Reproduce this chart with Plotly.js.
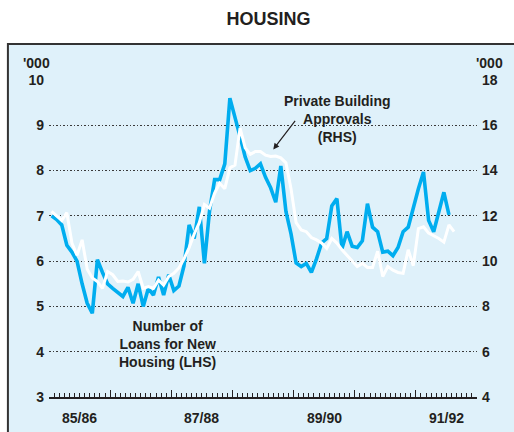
<!DOCTYPE html>
<html>
<head>
<meta charset="utf-8">
<script src="https://cdn.plot.ly/plotly-3.0.1.min.js"></script>
<style>html,body{margin:0;padding:0;background:#fff;}#chart{width:514px;height:432px;}</style>
</head>
<body>
<div id="chart"></div>
<script>
// Monthly data from July 1985 (month index 0), financial years 85/86 .. 91/92
const loansLHS = [7.0,6.92,6.8,6.35,6.2,6.0,5.5,5.07,4.85,6.03,5.75,5.5,5.4,5.32,5.22,5.42,5.07,5.5,5.0,5.4,
  5.25,5.65,5.25,5.7,5.35,5.45,5.9,6.8,6.5,7.2,5.95,7.1,7.8,7.8,8.15,9.6,9.2,8.75,8.3,8.0,
  8.05,8.15,7.85,7.62,7.3,8.1,7.1,6.6,5.96,5.88,5.95,5.75,6.05,6.4,6.5,7.22,7.38,6.28,6.65,6.33,
  6.3,6.45,7.27,6.75,6.65,6.2,6.22,6.12,6.3,6.65,6.75,7.2,7.6,7.97,6.9,6.65,7.1,7.52,7.02];
const approvalsRHS = [12.2,12.0,11.8,12.14,10.8,10.26,10.94,9.64,9.26,9.1,8.8,9.54,9.4,9.1,9.12,9.08,9.2,9.54,8.8,8.88,
  8.8,9.16,8.94,9.32,9.46,9.7,10.1,10.6,11.2,11.7,12.5,12.34,13.0,13.44,13.2,14.12,14.24,15.88,15.0,14.72,
  14.84,14.84,14.68,14.62,14.64,14.56,14.34,13.2,11.7,11.38,11.3,11.04,10.94,10.8,10.56,11.0,10.8,10.5,10.24,10.0,
  9.76,9.9,9.72,9.72,10.44,9.32,9.76,9.6,9.5,9.46,10.5,9.8,11.44,11.52,11.24,11.12,11.0,10.84,11.6,11.3];
const yearLabels = ['85/86','86/87','87/88','88/89','89/90','90/91','91/92'];
const shownYears = ['85/86','87/88','89/90','91/92'];
const leftTicks = [3,4,5,6,7,8,9,10];
const rightTicks = [4,6,8,10,12,14,16,18];

const monthPos = arr => arr.map((_, i) => i + 0.5);
const ink = '#231f20';
const blue = '#00adef';
const bold = {family: 'Liberation Sans, Arial, sans-serif', size: 14, color: ink, weight: 'bold'};

const traces = [
  {x: monthPos(loansLHS), y: loansLHS, type: 'scatter', mode: 'lines', yaxis: 'y',
   line: {color: blue, width: 3.6}, hoverinfo: 'skip'},
  {x: monthPos(approvalsRHS), y: approvalsRHS, type: 'scatter', mode: 'lines', yaxis: 'y2',
   line: {color: '#ffffff', width: 3}, hoverinfo: 'skip'}
];

const annotations = [];
yearLabels.forEach((lab, k) => {
  if (shownYears.includes(lab)) {
    annotations.push({x: k * 12 + 6, y: -0.066, xref: 'x', yref: 'paper', text: lab, showarrow: false,
      font: bold, xanchor: 'center', yanchor: 'middle'});
  }
});
annotations.push(
  {x: -0.03, y: 1.054, xref: 'paper', yref: 'paper', text: "'000", showarrow: false, font: bold, xanchor: 'center', yanchor: 'middle'},
  {x: 1.03, y: 1.054, xref: 'paper', yref: 'paper', text: "'000", showarrow: false, font: bold, xanchor: 'center', yanchor: 'middle'},
  {x: 0.675, y: 0.878, xref: 'paper', yref: 'paper', text: 'Private Building<br>Approvals<br>(RHS)', showarrow: false,
   font: bold, align: 'center', xanchor: 'center', yanchor: 'middle'},
  {x: 0.524, y: 0.781, xref: 'paper', yref: 'paper', text: '', showarrow: true, axref: 'pixel', ayref: 'pixel',
   ax: 23, ay: -30, arrowhead: 2, arrowsize: 1, arrowwidth: 1.2, arrowcolor: ink},
  {x: 0.278, y: 0.167, xref: 'paper', yref: 'paper', text: 'Number of<br>Loans for New<br>Housing (LHS)', showarrow: false,
   font: bold, align: 'center', xanchor: 'center', yanchor: 'middle'}
);

const layout = {
  width: 514, height: 432,
  margin: {l: 49, r: 37, t: 80, b: 35, pad: 0},
  paper_bgcolor: '#ffffff',
  plot_bgcolor: 'rgba(0,0,0,0)',
  showlegend: false,
  title: {text: 'HOUSING', x: 0.513, xref: 'paper', xanchor: 'center', y: 0.956, yanchor: 'middle',
    font: {family: 'Liberation Sans, Arial, sans-serif', size: 18, color: ink, weight: 'bold'}},
  xaxis: {range: [0, 84], tickmode: 'linear', tick0: 0, dtick: 12, ticks: 'inside', ticklen: 7, tickwidth: 1.2,
    tickcolor: ink, showticklabels: false, showgrid: false, zeroline: false, showline: true, linecolor: ink, linewidth: 1.5,
    minor: {tick0: 0, dtick: 1, ticks: 'inside', ticklen: 4, tickwidth: 1, tickcolor: ink, showgrid: false},
    fixedrange: true},
  yaxis: {range: [3, 10], tickmode: 'array', tickvals: leftTicks, ticktext: leftTicks.map(String), ticks: '',
    tickfont: bold, showgrid: true, gridcolor: '#3a3a3a', griddash: '1.5px,2px', gridwidth: 1, zeroline: false, showline: false,
    ticklabelstandoff: 4, fixedrange: true},
  yaxis2: {range: [4, 18], overlaying: 'y', side: 'right', tickmode: 'array', tickvals: rightTicks, ticktext: rightTicks.map(String),
    ticks: '', tickfont: bold, showgrid: false, zeroline: false, showline: false, ticklabelstandoff: 4, fixedrange: true},
  shapes: [
    {type: 'rect', xref: 'paper', yref: 'paper', x0: -0.096, x1: 1.2, y0: -0.2, y1: 1.1136, layer: 'below',
     fillcolor: '#dff1fa', line: {color: '#333', width: 2}}
  ],
  annotations: annotations
};

Plotly.newPlot('chart', traces, layout, {staticPlot: true, displayModeBar: false});
</script>
</body>
</html>
